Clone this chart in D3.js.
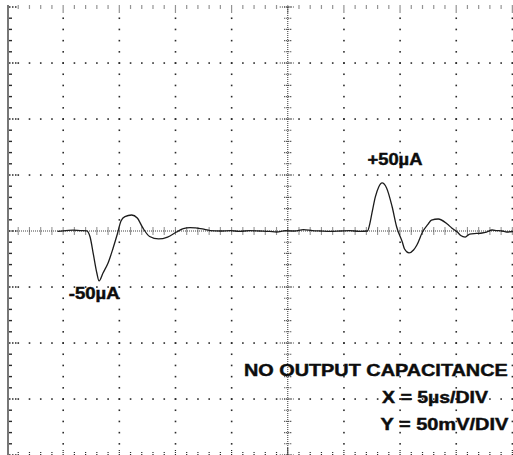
<!DOCTYPE html>
<html>
<head>
<meta charset="utf-8">
<script src="https://cdn.jsdelivr.net/npm/d3@7"></script>
<style>
  html, body { margin: 0; padding: 0; background: #fff; }
  svg { display: block; }
  text { font-family: "Liberation Sans", Arial, Helvetica, sans-serif; font-weight: bold; fill: #0d0d0d;
         stroke: #0d0d0d; stroke-width: 0.45px; }
</style>
</head>
<body>
<svg id="scope" width="513" height="455"></svg>
<script>
// Scope capture: load-step response, X = 5 µs/div, Y = 50 mV/div
const timeUs = [4.5, 5.0, 5.9, 6.5, 7.1, 7.4, 7.7, 8.0, 8.2, 8.55, 9.0, 9.45, 9.8, 10.15, 10.5, 11.1, 11.6,
  12.1, 12.7, 13.5, 14.3, 15.1, 15.7, 16.3, 16.8, 17.4, 18.1, 19.0, 19.9, 20.7, 21.6, 22.5, 23.4, 24.0,
  24.8, 25.6, 26.4, 27.2, 27.9, 28.8, 29.7, 30.5, 31.4, 32.1, 32.3, 32.5, 32.8, 33.1, 33.4, 33.8, 34.3,
  34.7, 35.2, 35.4, 35.8, 36.2, 36.5, 37.0, 37.5, 37.8, 38.4, 39.2, 39.6, 40.1, 40.4, 40.8, 41.2, 41.8,
  42.3, 42.7, 43.2, 43.6, 44.1, 44.5, 45.1];
const traceMv = [-0.4, 0.2, 0.7, 0.4, 0.2, -5.4, -21.4, -37.5, -44.6, -37.5, -28.6, -15.2, -3.6, 8.9, 12.9, 14.3, 11.6,
  2.7, -4.9, -7.1, -5.4, -0.9, 2.2, 3.1, 2.7, 1.8, 0.4, 0, 0.4, -0.4, 0.4, 0, -0.4, -0.9,
  0.4, 0, 1.3, 0.4, 0, -0.4, 0, 0.4, -0.4, 0, 6.2, 16.1, 30.4, 39.3, 42.9, 38.4, 21.4,
  3.6, -9.8, -16.1, -19.6, -17.0, -12.5, -0.9, 6.2, 9.8, 10.7, 6.2, 2.7, -0.9, -4.0, -5.4, -2.7, -2.2,
  -1.8, -0.9, 0.9, 0.4, 0, -0.9, -0.4];

// Graticule: 10 x 8 divisions, 5 minor subdivisions per division
const xMajor = [0, 5, 10, 15, 20, 25, 30, 35, 40, 45, 50];
const yMajor = [-200, -150, -100, -50, 0, 50, 100, 150, 200];
const xMinor = d3.range(0, 50.001, 1);
const yMinor = d3.range(-200, 200.001, 10);

// Annotations (text, anchor time in µs, anchor level in mV, drawn width)
const annotations = [
  { text: "+50\u00b5A", t: 32.1, v: 59, w: 55 },
  { text: "-50\u00b5A", t: 5.5, v: -60.5, w: 51 },
  { text: "NO OUTPUT CAPACITANCE", t: 21.1, v: -129.5, w: 264 },
  { text: "X = 5\u00b5s/DIV", t: 33.4, v: -153.5, w: 106 },
  { text: "Y = 50mV/DIV", t: 33.25, v: -177.5, w: 128 }
];

const svg = d3.select("#scope");
const x = d3.scaleLinear().domain([0, 50]).range([7, 568.5]);
const y = d3.scaleLinear().domain([-200, 200]).range([455, 7]);
const cx = x(25), cy = y(0);
const gridColor = "#2a2a2a";

const grid = svg.append("g");

// dotted major rows
yMajor.filter(v => v !== 0 && v !== 200 && v !== -200).forEach(v => {
  grid.selectAll(null).data(xMinor.filter(t => t > 0 && t !== 25)).join("rect")
    .attr("x", t => x(t) - 0.75).attr("y", y(v) - 0.75)
    .attr("width", 1.6).attr("height", 1.6).attr("fill", gridColor);
});
// dotted major columns
xMajor.filter(t => t !== 0 && t !== 25).forEach(t => {
  grid.selectAll(null).data(yMinor.filter(v => v !== 0 && Math.abs(v) !== 200)).join("rect")
    .attr("x", x(t) - 0.75).attr("y", v => y(v) - 0.75)
    .attr("width", 1.6).attr("height", 1.6).attr("fill", gridColor);
});
// top edge ticks
grid.selectAll(null).data(xMinor.filter(t => t > 0)).join("line")
  .attr("x1", t => x(t)).attr("x2", t => x(t))
  .attr("y1", y(200) - 1.5).attr("y2", t => y(200) + (t % 5 === 0 ? 6 : 2.5))
  .attr("stroke", gridColor).attr("stroke-width", 1.2).attr("stroke-dasharray", "1,1");
// bottom edge ticks
grid.selectAll(null).data(xMinor.filter(t => t > 0)).join("line")
  .attr("x1", t => x(t)).attr("x2", t => x(t))
  .attr("y1", t => y(-200) - (t === 25 ? 7 : t % 5 === 0 ? 5 : 3)).attr("y2", y(-200))
  .attr("stroke", gridColor).attr("stroke-width", 1.2).attr("stroke-dasharray", "1,1");

// left frame edge with inward ticks
grid.append("line")
  .attr("x1", x(0) + 1).attr("x2", x(0) + 1).attr("y1", y(200) - 2).attr("y2", 455)
  .attr("stroke", "#777").attr("stroke-width", 2);
grid.selectAll(null).data(yMinor).join("line")
  .attr("x1", x(0) + 2).attr("x2", v => x(0) + (v % 50 === 0 ? 10 : 5))
  .attr("y1", v => y(v)).attr("y2", v => y(v))
  .attr("stroke", gridColor).attr("stroke-width", 1.4)
  .attr("stroke-dasharray", v => (v % 50 === 0 ? "1.5,1.5" : null));

// center crosshair axes with minor ticks
grid.append("line")
  .attr("x1", x(0) + 2).attr("x2", 513).attr("y1", cy).attr("y2", cy)
  .attr("stroke", "#444").attr("stroke-width", 1.1).attr("stroke-dasharray", "1,1");
grid.selectAll(null).data(xMinor.filter(t => t > 0)).join("line")
  .attr("x1", t => x(t)).attr("x2", t => x(t))
  .attr("y1", cy - 3.5).attr("y2", cy + 3.5)
  .attr("stroke", gridColor).attr("stroke-width", 1.1).attr("stroke-dasharray", "1,1");
grid.append("line")
  .attr("x1", cx).attr("x2", cx).attr("y1", y(200)).attr("y2", 455)
  .attr("stroke", "#444").attr("stroke-width", 1.1).attr("stroke-dasharray", "1,1");
grid.selectAll(null).data(yMinor).join("line")
  .attr("x1", cx - 3.5).attr("x2", cx + 3.5)
  .attr("y1", v => y(v)).attr("y2", v => y(v))
  .attr("stroke", gridColor).attr("stroke-width", 1.1).attr("stroke-dasharray", "1,1");
// denser dots where major rows meet the center column
yMajor.filter(v => v !== 0).forEach(v => {
  grid.append("line")
    .attr("x1", cx - 8).attr("x2", cx + 6).attr("y1", y(v)).attr("y2", y(v))
    .attr("stroke", gridColor).attr("stroke-width", 1.1).attr("stroke-dasharray", "1,1.2");
});

// the captured trace
const trace = timeUs.map((t, i) => [t, traceMv[i]]);
svg.append("path")
  .datum(trace)
  .attr("fill", "none")
  .attr("stroke", "#1c1c1c")
  .attr("stroke-width", 1.3)
  .attr("stroke-linejoin", "round")
  .attr("d", d3.line().x(d => x(d[0])).y(d => y(d[1])).curve(d3.curveMonotoneX));

// annotations: bold face, stretched horizontally to the drawn width
svg.append("g").selectAll("text").data(annotations).join("text")
  .attr("font-size", 17)
  .text(d => d.text)
  .attr("transform", function (d) {
    const natural = this.getComputedTextLength();
    return `translate(${x(d.t)},${y(d.v)}) scale(${d.w / natural},1)`;
  });
</script>
</body>
</html>
